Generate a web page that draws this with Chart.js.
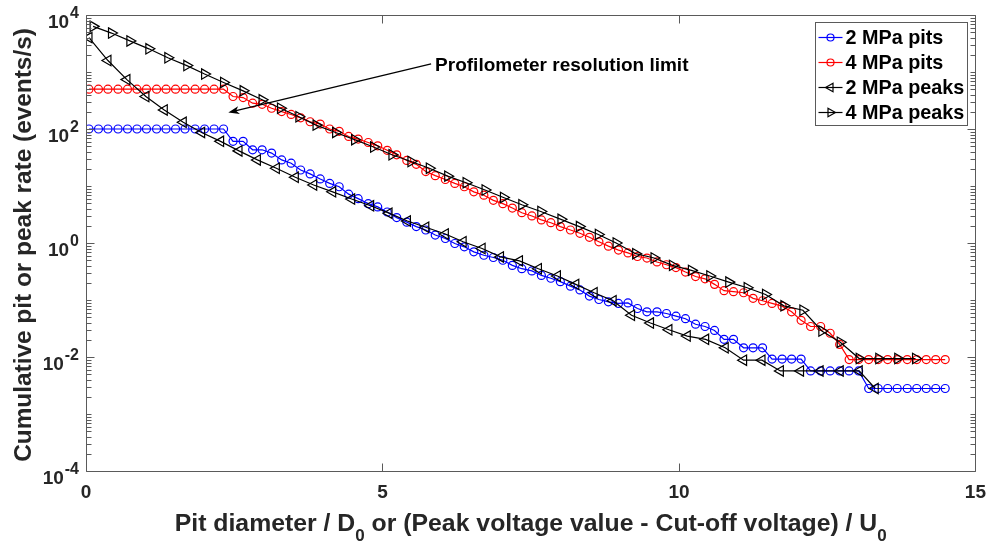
<!DOCTYPE html>
<html><head><meta charset="utf-8">
<script src="https://cdn.jsdelivr.net/npm/chart.js@4.4.1/dist/chart.umd.min.js"></script>
<style>html,body{margin:0;padding:0;background:#fff}#wrap{width:996px;height:548px}</style>
</head><body><div id="wrap"><canvas id="c" width="996" height="548"></canvas></div>
<script>
// ---------- data ----------
const pitX = [0.05,0.21,0.37,0.54,0.70,0.86,1.02,1.19,1.35,1.51,1.67,1.84,2.00,2.16,2.32,2.48,2.65,2.81,2.97,3.13,
  3.30,3.46,3.62,3.78,3.95,4.11,4.27,4.43,4.59,4.76,4.92,5.08,5.24,5.41,5.57,5.73,5.89,6.06,6.22,6.38,
  6.54,6.71,6.87,7.03,7.19,7.35,7.52,7.68,7.84,8.00,8.17,8.33,8.49,8.65,8.81,8.98,9.14,9.30,9.46,9.63,
  9.79,9.95,10.11,10.28,10.44,10.60,10.76,10.92,11.09,11.25,11.41,11.57,11.74,11.90,12.06,12.22,12.39,12.55,12.71,12.87,
  13.03,13.20,13.36,13.52,13.68,13.85,14.01,14.17,14.33,14.49];
const pits2MPa = [100,100,100,100,100,100,100,100,100,100,100,100,100,100,100,
  60.7,60.7,43.2,43.2,37.8,28.7,25.1,19.1,16.3,13.3,
  11.1,9.7,7.2,6.0,4.9,4.3,3.5,2.79,2.32,1.94,
  1.69,1.38,1.20,0.98,0.857,0.70,0.61,0.557,0.498,0.405,
  0.354,0.324,0.27,0.241,0.210,0.175,0.150,0.117,0.102,0.093,
  0.087,0.089,0.071,0.062,0.062,0.058,0.052,0.047,0.0376,0.0343,
  0.0292,0.0204,0.0204,0.0145,0.0145,0.0145,0.0092,0.0092,0.0092,0.0092,
  0.0057,0.0057,0.0057,0.0057,0.0057,0.0057,
  0.0028,0.0028,0.0028,0.0028,0.0028,0.0028,0.0028,0.0028,0.0028];
const pits4MPa = [500,500,500,500,500,500,500,500,500,500,500,500,500,500,500,
  372,356,284,271,231,202,180,157,134,122,
  100,91,74,66.5,58,50.7,42.3,35.3,28.1,24.0,
  17.9,15.2,13.0,11.1,9.7,7.9,6.9,5.6,4.9,4.1,
  3.4,2.98,2.54,2.27,1.94,1.69,1.48,1.26,1.05,0.88,
  0.75,0.67,0.58,0.545,0.465,0.415,0.37,0.309,0.258,0.235,
  0.188,0.146,0.140,0.134,0.107,0.097,0.087,0.078,0.062,0.044,
  0.0343,0.0343,0.0261,0.0166,
  0.009,0.009,0.009,0.009,0.009,0.009,0.009,0.009,0.009,0.009,0.009];
const peaks2MPaX = [0.05,0.37,0.69,1.01,1.32,1.64,1.95,2.27,2.58,2.89,3.21,3.53,3.84,4.16,4.48,4.80,5.11,5.42,5.73,6.06,
  6.36,6.68,6.99,7.31,7.63,7.95,8.26,8.57,8.89,9.20,9.52,9.83,10.14,10.45,10.78,11.09,11.40,11.71,12.05,12.38,
  12.72,13.04,13.31];
const peaks2MPa = [4020,1590,735,372,216,131,87,60.7,41.3,28.7,
  20.5,14.2,10.4,7.9,5.9,4.5,3.34,2.43,1.89,1.44,
  1.05,0.80,0.57,0.486,0.354,0.264,0.188,0.134,0.097,0.054,
  0.0394,0.030,0.0233,0.0204,0.0145,0.0088,0.0088,0.0057,0.0057,0.0057,
  0.0057,0.0057,0.0028];
const peaks4MPaX = [0.12,0.43,0.74,1.06,1.38,1.70,2.00,2.32,2.65,2.97,3.28,3.59,3.88,4.21,4.53,4.85,5.16,5.48,5.79,6.10,
  6.41,6.73,7.04,7.35,7.67,8.01,8.32,8.64,8.94,9.27,9.58,9.89,10.21,10.52,10.84,11.15,11.46,11.77,12.09,12.41,
  12.72,13.04,13.37,13.69,13.99];
const peaks4MPa = [6320,4820,3510,2550,1780,1295,920,656,467,325,
  231,164,117,87,65,48.4,35.3,26.9,20.5,14.9,
  11.4,8.5,6.3,4.7,3.57,2.6,1.94,1.41,1.0,0.65,
  0.545,0.405,0.331,0.264,0.206,0.164,0.125,0.079,0.066,0.0286,
  0.0182,0.0094,0.0094,0.0094,0.0094];
const seriesLabels = ['2 MPa pits','4 MPa pits','2 MPa peaks','4 MPa peaks'];
const xTicks = [0,5,10,15];
const yTickExponents = [-4,-2,0,2,4];
const annotationText = 'Profilometer resolution limit';
const arrowFrom = {x:5.82, y:1393};
const arrowTo = {x:2.40, y:194};
const xTitleParts = [['Pit diameter / D',''],['0','sub'],[' or (Peak voltage value - Cut-off voltage) / U',''],['0','sub']];
const yTitle = 'Cumulative pit or peak rate (events/s)';

// ---------- helpers ----------
const FONT = '"Liberation Sans", Arial, Helvetica, sans-serif';
const f = (s) => `bold ${s}px ${FONT}`;
const AX = '#262626';
const AXLINE = '#5a5a5a';
const pts = (xs, ys) => xs.map((x, i) => ({x, y: ys[i]}));

const decor = {
  id: 'decor',
  afterDraw(chart){
    const {ctx, chartArea: a, scales: {x, y}} = chart;
    ctx.save();
    ctx.strokeStyle = AXLINE; ctx.lineWidth = 1;
    const L = Math.round(a.left) + 0.5, R = Math.round(a.right) + 0.5, T = Math.round(a.top) + 0.5, B = Math.round(a.bottom) + 0.5;
    ctx.beginPath(); ctx.rect(L, T, R - L, B - T); ctx.stroke();
    ctx.beginPath();
    xTicks.forEach(v => {
      const px = Math.round(x.getPixelForValue(v)) + 0.5;
      ctx.moveTo(px, B); ctx.lineTo(px, B - 8);
      ctx.moveTo(px, T); ctx.lineTo(px, T + 8);
    });
    for (let e = -4; e <= 4; e++) {
      for (let k = 1; k < 10; k++) {
        const v = k * Math.pow(10, e);
        if (v > 1e4 * 1.0001) break;
        const py = Math.round(y.getPixelForValue(v)) + 0.5;
        const major = (k === 1 && yTickExponents.includes(e));
        const len = major ? 8 : 5;
        ctx.moveTo(L, py); ctx.lineTo(L + len, py);
        ctx.moveTo(R, py); ctx.lineTo(R - len, py);
      }
    }
    ctx.stroke();

    // y tick labels 10^n
    ctx.fillStyle = AX; ctx.textBaseline = 'alphabetic'; ctx.textAlign = 'right';
    yTickExponents.forEach(e => {
      const py = y.getPixelForValue(Math.pow(10, e));
      const right = a.left - 7;
      ctx.font = f(16);
      const es = String(e);
      const ew = ctx.measureText(es).width;
      ctx.fillText(es, right, py + 3);
      ctx.font = f(19);
      ctx.fillText('10', right - ew - 1, py + 12.5);
    });

    // x title with subscripts
    ctx.textAlign = 'left'; ctx.textBaseline = 'alphabetic';
    const mainSize = 24.8, subSize = 17;
    let total = 0;
    xTitleParts.forEach(([t, k]) => { ctx.font = f(k ? subSize : mainSize); total += ctx.measureText(t).width; });
    let cx = (a.left + a.right) / 2 - total / 2;
    const base = 531;
    xTitleParts.forEach(([t, k]) => {
      ctx.font = f(k ? subSize : mainSize);
      ctx.fillText(t, cx, k ? base + 10 : base);
      cx += ctx.measureText(t).width;
    });

    // y title
    ctx.save();
    ctx.translate(31, (a.top + a.bottom) / 2 + 2);
    ctx.rotate(-Math.PI / 2);
    ctx.textAlign = 'center'; ctx.textBaseline = 'alphabetic';
    ctx.font = f(24.4);
    ctx.fillText(yTitle, 0, 0);
    ctx.restore();

    // annotation arrow
    const x0 = x.getPixelForValue(arrowFrom.x), y0 = y.getPixelForValue(arrowFrom.y);
    const x1 = x.getPixelForValue(arrowTo.x), y1 = y.getPixelForValue(arrowTo.y);
    const ang = Math.atan2(y1 - y0, x1 - x0);
    ctx.strokeStyle = '#000'; ctx.fillStyle = '#000'; ctx.lineWidth = 1.3;
    ctx.beginPath(); ctx.moveTo(x0, y0); ctx.lineTo(x1 - 6 * Math.cos(ang), y1 - 6 * Math.sin(ang)); ctx.stroke();
    ctx.save(); ctx.translate(x1, y1); ctx.rotate(ang);
    ctx.beginPath(); ctx.moveTo(0, 0); ctx.lineTo(-11, -4); ctx.lineTo(-8, 0); ctx.lineTo(-11, 4); ctx.closePath(); ctx.fill();
    ctx.restore();
    ctx.font = f(19); ctx.textAlign = 'left'; ctx.textBaseline = 'middle'; ctx.fillStyle = '#000';
    ctx.fillText(annotationText, x0 + 4, y0 + 2);

    // legend
    const lw = 152, lh = 103;
    const lx = Math.round(a.right - 160) + 0.5, ly = Math.round(a.top + 7) + 0.5;
    ctx.fillStyle = '#fff'; ctx.fillRect(lx, ly, lw, lh);
    ctx.strokeStyle = AXLINE; ctx.lineWidth = 1; ctx.strokeRect(lx, ly, lw, lh);
    chart.data.datasets.forEach((ds, i) => {
      const ry = ly + 15 + i * 25;
      ctx.strokeStyle = ds.borderColor; ctx.lineWidth = 1.2;
      ctx.beginPath(); ctx.moveTo(lx + 3, ry); ctx.lineTo(lx + 27, ry); ctx.stroke();
      ctx.fillStyle = 'rgba(0,0,0,0)';
      Chart.helpers.drawPoint(ctx, {pointStyle: ds.pointStyle, rotation: ds.pointRotation || 0, radius: ds.pointStyle === 'circle' ? 3.5 : 5, borderWidth: 1}, lx + 15, ry);
      ctx.fillStyle = '#000'; ctx.font = f(19.8); ctx.textAlign = 'left'; ctx.textBaseline = 'middle';
      ctx.fillText(ds.label, lx + 30, ry + 1);
    });
    ctx.restore();
  }
};

const common = {fill: false, borderWidth: 1.2, pointBorderWidth: 1.2, pointBackgroundColor: 'rgba(0,0,0,0)', tension: 0, showLine: true};
new Chart(document.getElementById('c'), {
  type: 'scatter',
  data: {datasets: [
    {...common, label: seriesLabels[0], data: pts(pitX, pits2MPa), borderColor: '#0000ff', pointBorderColor: '#0000ff', pointStyle: 'circle', pointRadius: 4, order: 4},
    {...common, label: seriesLabels[1], data: pts(pitX, pits4MPa), borderColor: '#ff0000', pointBorderColor: '#ff0000', pointStyle: 'circle', pointRadius: 4, order: 3},
    {...common, label: seriesLabels[2], data: pts(peaks2MPaX, peaks2MPa), borderColor: '#000000', pointBorderColor: '#000000', pointStyle: 'triangle', pointRotation: -90, pointRadius: 6, order: 2},
    {...common, label: seriesLabels[3], data: pts(peaks4MPaX, peaks4MPa), borderColor: '#000000', pointBorderColor: '#000000', pointStyle: 'triangle', pointRotation: 90, pointRadius: 6, order: 1}
  ]},
  options: {
    responsive: false, animation: false, devicePixelRatio: 1,
    layout: {padding: {top: 15, right: 19, left: 0, bottom: 0}},
    plugins: {legend: {display: false}, tooltip: {enabled: false}},
    elements: {point: {hoverRadius: 4}},
    scales: {
      x: {type: 'linear', min: 0, max: 15,
        grid: {display: false, drawTicks: false}, border: {display: false},
        ticks: {stepSize: 5, autoSkip: false, maxRotation: 0, color: AX, font: {family: FONT, size: 19, weight: 'bold'}, padding: 10,
          callback: v => xTicks.includes(v) ? String(v) : ''},
        afterFit: s => { s.height = 77; }},
      y: {type: 'logarithmic', min: 1e-4, max: 1e4,
        grid: {display: false, drawTicks: false}, border: {display: false},
        ticks: {display: false},
        afterFit: s => { s.width = 86; }}
    }
  },
  plugins: [decor]
});
</script></body></html>
